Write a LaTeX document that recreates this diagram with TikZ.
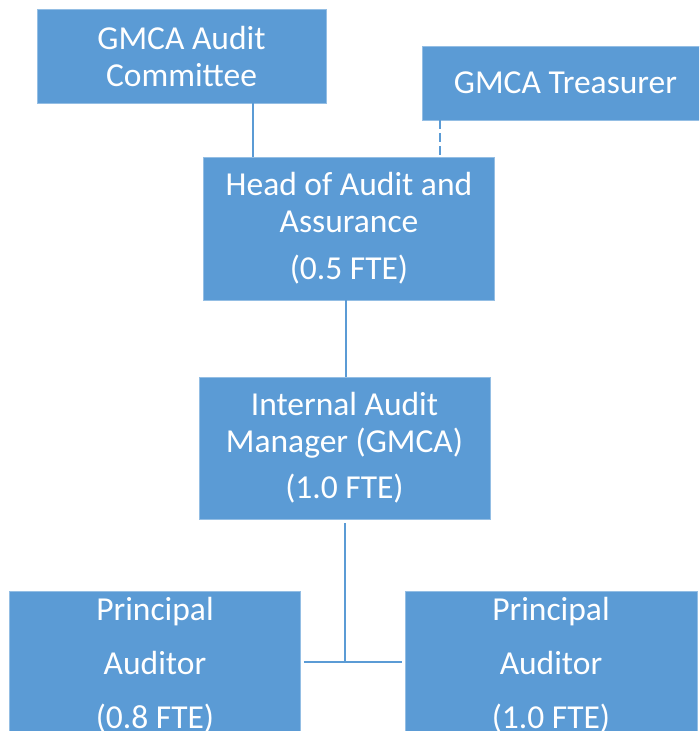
\documentclass[tikz,border=0pt]{standalone}
\usepackage{fontspec}
\setmainfont{Carlito}
\definecolor{boxblue}{HTML}{5B9BD5}
\definecolor{lineblue}{HTML}{5B9BD5}
\tikzset{
  orgbox/.style={fill=boxblue, draw=white!35!boxblue, line width=0.6pt, inner sep=0pt,
    text=white, align=center, font=\fontsize{33.5}{37}\selectfont},
  link/.style={draw=lineblue, line width=2pt},
  dlink/.style={draw=lineblue, line width=2pt, dash pattern=on 9pt off 4pt}
}
\begin{document}
\begin{tikzpicture}[x=1pt,y=-1pt]
\useasboundingbox (0,0) rectangle (699,731);
\clip (0,0) rectangle (699,731);
\node[orgbox, minimum width=289pt, minimum height=94pt] (com) at (181.5,56) {GMCA Audit\\Committee};
\node[orgbox, minimum width=287pt, minimum height=74pt] (tr) at (565.5,83) {GMCA Treasurer};
\node[orgbox, minimum width=291pt, minimum height=143pt] (hd) at (349,228.5) {Head of Audit and\\Assurance\\[10pt](0.5 FTE)};
\node[orgbox, minimum width=291pt, minimum height=142pt] (mgr) at (344.5,448) {Internal Audit\\Manager (GMCA)\\[9pt](1.0 FTE)};
\node[orgbox, minimum width=291pt, minimum height=148pt] (pa1) at (155,665) {Principal\\[17pt]Auditor\\[17pt](0.8 FTE)};
\node[orgbox, minimum width=292pt, minimum height=148pt] (pa2) at (551,665) {Principal\\[17pt]Auditor\\[17pt](1.0 FTE)};
\coordinate (j) at (345,662);
\draw[link] ([xshift=71.5pt]com.south) -- ([xshift=71.5pt]com.south |- hd.north);
\draw[dlink] ([xshift=-125.5pt]tr.south) -- ([xshift=-125.5pt]tr.south |- hd.north);
\draw[link] ([xshift=-3pt]hd.south) -- ([xshift=-3pt]hd.south |- mgr.north);
\draw[link] ([yshift=-4pt]mgr.south -| j) -- (j);
\draw[link] ([xshift=3pt]pa1.east |- j) -- ([xshift=-3pt]pa2.west |- j);
\end{tikzpicture}
\end{document}
